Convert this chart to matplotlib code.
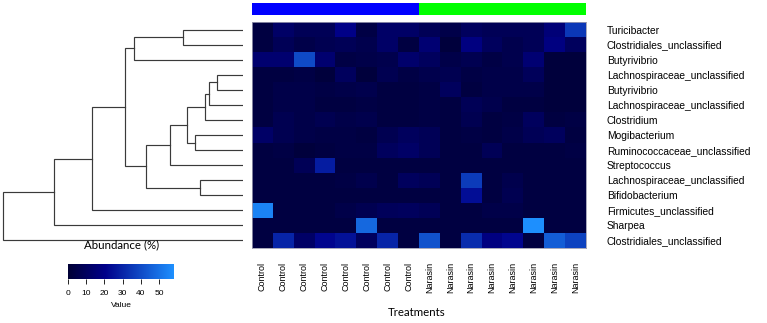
import matplotlib
matplotlib.use("Agg")
import matplotlib.pyplot as plt
import numpy as np
from matplotlib.colors import LinearSegmentedColormap

# taxa (top to bottom, dendrogram order)
taxa = ["Turicibacter", "Clostridiales_unclassified", "Butyrivibrio",
        "Lachnospiraceae_unclassified", "Butyrivibrio", "Lachnospiraceae_unclassified",
        "Clostridium", "Mogibacterium", "Ruminococcaceae_unclassified", "Streptococcus",
        "Lachnospiraceae_unclassified", "Bifidobacterium", "Firmicutes_unclassified",
        "Sharpea", "Clostridiales_unclassified"]
samples = ["Control"] * 8 + ["Narasin"] * 8
group_colors = ["#0000FF"] * 8 + ["#00FF00"] * 8

# abundance (%) per taxon, 8 Control then 8 Narasin samples
abundance = [
    [3, 12, 8, 8, 20, 4, 12, 12,   8, 5, 10, 8, 8, 8, 16, 35],
    [3, 8, 5, 7, 8, 6, 12, 3,      15, 2, 18, 10, 6, 8, 18, 10],
    [14, 14, 40, 14, 4, 5, 6, 13,  10, 5, 7, 4, 6, 15, 2, 2],
    [3, 3, 4, 2, 10, 2, 7, 4,      6, 7, 4, 5, 5, 9, 2, 2],
    [3, 5, 5, 4, 5, 6, 3, 3,       4, 10, 3, 5, 5, 5, 2, 2],
    [3, 5, 5, 3, 3, 4, 3, 3,       4, 3, 8, 6, 3, 3, 2, 2],
    [3, 7, 5, 7, 5, 6, 3, 3,       4, 3, 7, 3, 4, 10, 3, 4],
    [12, 7, 5, 4, 4, 3, 7, 10,     8, 3, 4, 3, 5, 8, 10, 3],
    [3, 4, 2, 3, 4, 4, 10, 12,     8, 3, 3, 8, 3, 3, 3, 4],
    [3, 3, 8, 28, 3, 3, 3, 3,      3, 3, 3, 3, 3, 3, 3, 3],
    [3, 3, 3, 3, 4, 6, 3, 10,      8, 3, 36, 3, 6, 3, 3, 3],
    [3, 3, 3, 3, 3, 3, 3, 3,       3, 3, 24, 3, 7, 3, 3, 3],
    [55, 3, 3, 3, 5, 7, 9, 10,     8, 3, 3, 5, 5, 3, 3, 3],
    [3, 3, 3, 3, 3, 48, 3, 3,      3, 3, 3, 3, 3, 58, 3, 3],
    [3, 30, 12, 22, 25, 10, 30, 3, 42, 3, 32, 18, 22, 3, 45, 38],
]

# row dendrogram merges: (child a, child b, height); leaves 0..14, new nodes from 15
merges = [
    (0, 1, 59.7), (15, 2, 108.7), (3, 4, 26.0), (17, 5, 34.0), (18, 6, 38.0),
    (7, 8, 48.3), (19, 20, 56.3), (21, 9, 73.3), (10, 11, 43.0), (22, 23, 97.0),
    (16, 24, 118.0), (25, 12, 151.3), (26, 13, 189.3), (27, 14, 239.7),
]

vmax = 58.3
cmap = LinearSegmentedColormap.from_list(
    "abund", [(0, "#000035"), (0.35, "#00008A"), (1, "#1E90FF")])

W, H = 767, 323
plt.rcParams['font.family'] = ['Liberation Sans', 'DejaVu Sans']
fig = plt.figure(figsize=(W / 100, H / 100), dpi=100)


def box(x0, y0, x1, y1):
    return [x0 / W, 1 - y1 / H, (x1 - x0) / W, (y1 - y0) / H]


vals = np.array(abundance, dtype=float)
nrow, ncol = vals.shape

# heatmap
ax = fig.add_axes(box(252, 22, 586, 248))
ax.imshow(vals, cmap=cmap, vmin=0, vmax=vmax, aspect='auto', interpolation='nearest')
ax.set_xticks(range(ncol))
ax.set_xticklabels(samples, rotation=90, fontsize=6.5, va='top')
ax.set_yticks(range(nrow))
ax.set_yticklabels(taxa, fontsize=7.4)
ax.yaxis.tick_right()
ax.tick_params(length=0)
ax.tick_params(axis='y', pad=15)
ax.tick_params(axis='x', pad=10)
for s in ax.spines.values():
    s.set_color("#9a9ab0")
    s.set_linewidth(0.6)

# group colour bar
axg = fig.add_axes(box(252, 3.3, 586, 14.7))
for i, c in enumerate(group_colors):
    axg.axvspan(i - 0.5, i + 0.5, color=c, lw=0)
axg.set_xlim(-0.5, ncol - 0.5)
axg.axis('off')

# dendrogram
axd = fig.add_axes(box(0, 22, 243, 248))
pos = {i: (float(i), 0.0) for i in range(nrow)}
node = nrow
for a, b, h in merges:
    ya, ha = pos[a]
    yb, hb = pos[b]
    axd.plot([ha, h, h, hb], [ya, ya, yb, yb], color="#3a3a3a", lw=0.85,
             solid_joinstyle='miter')
    pos[node] = ((ya + yb) / 2, h)
    node += 1
axd.set_xlim(243, 0)
axd.set_ylim(nrow - 0.5, -0.5)
axd.axis('off')

# axis title
fig.text(417 / W, 1 - 313 / H, "Treatments", ha='center', va='center',
         fontsize=8.3, family=['Lato', 'DejaVu Sans'])

# colour key
fig.text(122 / W, 1 - 245 / H, "Abundance (%)", ha='center', va='center',
         fontsize=8.3, family=['Lato', 'DejaVu Sans'])
axc = fig.add_axes(box(68, 264, 174, 279.3))
axc.imshow(np.linspace(0, vmax, 256)[None, :], cmap=cmap, vmin=0, vmax=vmax,
           aspect='auto', extent=[0, vmax, 0, 1])
axc.set_xticks([0, 10, 20, 30, 40, 50])
axc.set_yticks([])
axc.tick_params(axis='x', length=3.5, width=0.6, labelsize=6, pad=4)
for s in axc.spines.values():
    s.set_visible(False)
axc.set_xlabel("Value", fontsize=6, labelpad=4)

fig.savefig("out.png", dpi=100)
